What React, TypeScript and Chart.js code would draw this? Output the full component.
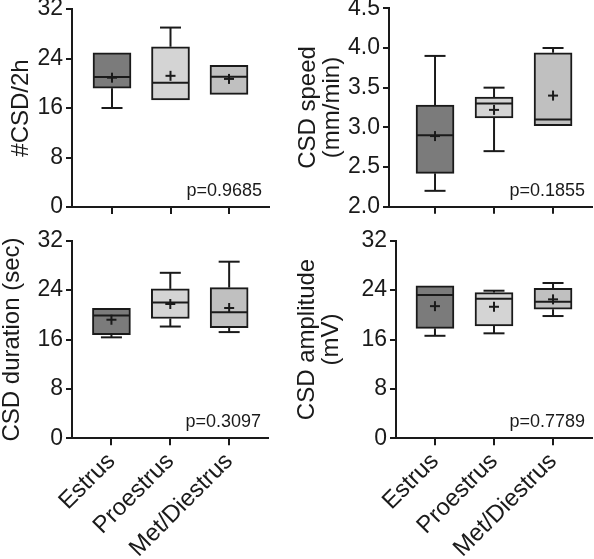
import React, { useEffect, useRef } from 'react';
import { Chart, registerables } from 'chart.js';

Chart.register(...registerables);

// ---------- data ----------
const categories = ['Estrus', 'Proestrus', 'Met/Diestrus'];
const boxColors = ['#7b7b7b', '#d4d4d4', '#c0c0c0'];

// #CSD/2h
const countMin = [16, 17.3, 18.2];
const countQ1 = [19.2, 17.3, 18.2];
const countMedian = [21, 20.1, 21.05];
const countQ3 = [24.9, 25.9, 22.9];
const countMax = [24.9, 29, 22.9];
const countMean = [20.9, 21.2, 20.7];

// CSD speed (mm/min)
const speedMin = [2.2, 2.7, 3.02];
const speedQ1 = [2.42, 3.12, 3.02];
const speedMedian = [2.9, 3.3, 3.1];
const speedQ3 = [3.28, 3.38, 3.94];
const speedMax = [3.9, 3.5, 4.0];
const speedMean = [2.89, 3.22, 3.4];

// CSD duration (sec)
const durMin = [16.35, 18.1, 17.2];
const durQ1 = [16.8, 19.4, 17.9];
const durMedian = [19.9, 22.0, 20.4];
const durQ3 = [21.05, 24.2, 24.4];
const durMax = [21.05, 26.8, 28.6];
const durMean = [19.2, 21.75, 21.1];

// CSD amplitude (mV)
const ampMin = [16.6, 17.0, 19.8];
const ampQ1 = [17.8, 18.2, 20.9];
const ampMedian = [23.2, 22.6, 22.1];
const ampQ3 = [24.7, 23.6, 24.3];
const ampMax = [24.7, 23.9, 25.15];
const ampMean = [21.4, 21.3, 22.5];

const countTicks = [0, 8, 16, 24, 32];
const speedTicks = [2.0, 2.5, 3.0, 3.5, 4.0, 4.5];

const pValues = ['p=0.9685', 'p=0.1855', 'p=0.3097', 'p=0.7789'];

// ---------- styling ----------
const INK = '#1a1a1a';
const FONT = '"Liberation Sans", Arial, Helvetica, sans-serif';

type Stats = { min: number[]; q1: number[]; median: number[]; q3: number[]; max: number[]; mean: number[] };
type Layout = {
  left: number; top: number; width: number; height: number;
  axisWidth: number; padTop: number; padRight: number; xHeight: number;
  xMin: number; xMax: number; titlePad: number;
};
type PanelProps = {
  stats: Stats; yTicks: number[]; decimals: number; title: string | string[];
  pText: string; showXLabels: boolean; layout: Layout;
};

function BoxPanel(p: PanelProps) {
  const ref = useRef<HTMLCanvasElement>(null);
  useEffect(() => {
    if (!ref.current) return;
    const L = p.layout;
    const s = p.stats;
    const boxPlugin = {
      id: 'boxExtras',
      afterDatasetsDraw(chart: any) {
        const { ctx, chartArea } = chart;
        const x = chart.scales.x;
        const y = chart.scales.y;
        const meta = chart.getDatasetMeta(0);
        ctx.save();
        ctx.strokeStyle = INK;
        ctx.lineWidth = 2;
        ctx.lineCap = 'butt';
        const line = (x1: number, y1: number, x2: number, y2: number) => {
          ctx.beginPath();
          ctx.moveTo(x1, y1);
          ctx.lineTo(x2, y2);
          ctx.stroke();
        };
        const capHalf = 10.5;
        s.q1.forEach((_, i) => {
          const cx = x.getPixelForValue(i);
          const bar = meta.data[i];
          const half = bar.width / 2 - 1;
          const yQ1 = y.getPixelForValue(s.q1[i]);
          const yQ3 = y.getPixelForValue(s.q3[i]);
          const yMax = y.getPixelForValue(s.max[i]);
          const yMin = y.getPixelForValue(s.min[i]);
          const yMed = y.getPixelForValue(s.median[i]);
          const yMean = y.getPixelForValue(s.mean[i]);
          if (s.max[i] > s.q3[i]) {
            line(cx, yQ3, cx, yMax);
            line(cx - capHalf, yMax, cx + capHalf, yMax);
          }
          if (s.min[i] < s.q1[i]) {
            line(cx, yQ1, cx, yMin);
            line(cx - capHalf, yMin, cx + capHalf, yMin);
          }
          line(cx - half, yMed, cx + half, yMed);
          line(cx - 5, yMean, cx + 5, yMean);
          line(cx, yMean - 5, cx, yMean + 5);
        });
        ctx.fillStyle = INK;
        ctx.font = `18px ${FONT}`;
        ctx.textAlign = 'right';
        ctx.textBaseline = 'alphabetic';
        ctx.fillText(p.pText, chartArea.right - 7, chartArea.bottom - 11);
        ctx.restore();
      },
    };

    const chart = new Chart(ref.current, {
      type: 'bar',
      data: {
        datasets: [
          {
            data: categories.map((_, i) => ({ x: i, y: [s.q1[i], s.q3[i]] })) as any,
            backgroundColor: boxColors,
            borderColor: INK,
            borderWidth: 2,
            borderSkipped: false,
            barThickness: 38,
          },
        ],
      },
      options: {
        animation: false,
        responsive: false,
        devicePixelRatio: 1,
        layout: { padding: { top: L.padTop, right: L.padRight, bottom: 0, left: 0 } },
        plugins: { legend: { display: false }, tooltip: { enabled: false } },
        scales: {
          x: {
            type: 'linear',
            min: L.xMin,
            max: L.xMax,
            offset: false,
            afterBuildTicks: (sc: any) => {
              sc.ticks = categories.map((_, i) => ({ value: i }));
            },
            afterFit: (sc: any) => {
              sc.height = L.xHeight;
            },
            grid: {
              display: true,
              offset: false,
              drawOnChartArea: false,
              drawTicks: true,
              tickLength: 7,
              color: INK,
              lineWidth: 2,
            },
            border: { display: true, color: INK, width: 2 },
            ticks: {
              display: p.showXLabels,
              autoSkip: false,
              minRotation: 45,
              maxRotation: 45,
              padding: 2,
              color: INK,
              font: { family: FONT, size: 24 },
              callback: (v: any) => categories[Number(v)] ?? '',
            },
          },
          y: {
            type: 'linear',
            min: p.yTicks[0],
            max: p.yTicks[p.yTicks.length - 1],
            afterBuildTicks: (sc: any) => {
              sc.ticks = p.yTicks.map((v) => ({ value: v }));
            },
            afterFit: (sc: any) => {
              sc.width = L.axisWidth;
            },
            grid: {
              display: true,
              drawOnChartArea: false,
              drawTicks: true,
              tickLength: 6,
              color: INK,
              lineWidth: 2,
            },
            border: { display: true, color: INK, width: 2 },
            ticks: {
              padding: 3,
              color: INK,
              font: { family: FONT, size: 23 },
              callback: (v: any) => Number(v).toFixed(p.decimals),
            },
            title: {
              display: true,
              text: p.title,
              color: INK,
              font: { family: FONT, size: 24, lineHeight: 1 },
              padding: { top: L.titlePad, bottom: 0 },
            },
          },
        },
      } as any,
      plugins: [boxPlugin],
    });
    return () => chart.destroy();
  }, []);

  const L = p.layout;
  return (
    <div style={{ position: 'absolute', left: L.left, top: L.top, width: L.width, height: L.height }}>
      <canvas ref={ref} width={L.width} height={L.height} style={{ display: 'block' }} />
    </div>
  );
}

const layoutTL: Layout = { left: 0, top: -20, width: 290, height: 260, axisWidth: 72, padTop: 29, padRight: 21, xHeight: 33, xMin: -0.684, xMax: 2.684, titlePad: 9 };
const layoutTR: Layout = { left: 290, top: -20, width: 330, height: 260, axisWidth: 99, padTop: 28.3, padRight: 28, xHeight: 33.3, xMin: -0.78, xMax: 2.66, titlePad: 6.5 };
const layoutBL: Layout = { left: 0, top: 200, width: 290, height: 359, axisWidth: 72, padTop: 40.7, padRight: 22, xHeight: 120.7, xMin: -0.67, xMax: 2.66, titlePad: 0.5 };
const layoutBR: Layout = { left: 290, top: 200, width: 330, height: 359, axisWidth: 106, padTop: 40.7, padRight: 28, xHeight: 120.7, xMin: -0.66, xMax: 2.66, titlePad: 5 };

export default function App() {
  return (
    <div style={{ position: 'fixed', left: 0, top: 0, width: 594, height: 559, overflow: 'hidden', background: '#fff' }}>
      <BoxPanel
        stats={{ min: countMin, q1: countQ1, median: countMedian, q3: countQ3, max: countMax, mean: countMean }}
        yTicks={countTicks} decimals={0} title="#CSD/2h" pText={pValues[0]} showXLabels={false} layout={layoutTL}
      />
      <BoxPanel
        stats={{ min: speedMin, q1: speedQ1, median: speedMedian, q3: speedQ3, max: speedMax, mean: speedMean }}
        yTicks={speedTicks} decimals={1} title={['CSD speed', '(mm/min)']} pText={pValues[1]} showXLabels={false} layout={layoutTR}
      />
      <BoxPanel
        stats={{ min: durMin, q1: durQ1, median: durMedian, q3: durQ3, max: durMax, mean: durMean }}
        yTicks={countTicks} decimals={0} title="CSD duration (sec)" pText={pValues[2]} showXLabels={true} layout={layoutBL}
      />
      <BoxPanel
        stats={{ min: ampMin, q1: ampQ1, median: ampMedian, q3: ampQ3, max: ampMax, mean: ampMean }}
        yTicks={countTicks} decimals={0} title={['CSD amplitude', '(mV)']} pText={pValues[3]} showXLabels={true} layout={layoutBR}
      />
    </div>
  );
}
